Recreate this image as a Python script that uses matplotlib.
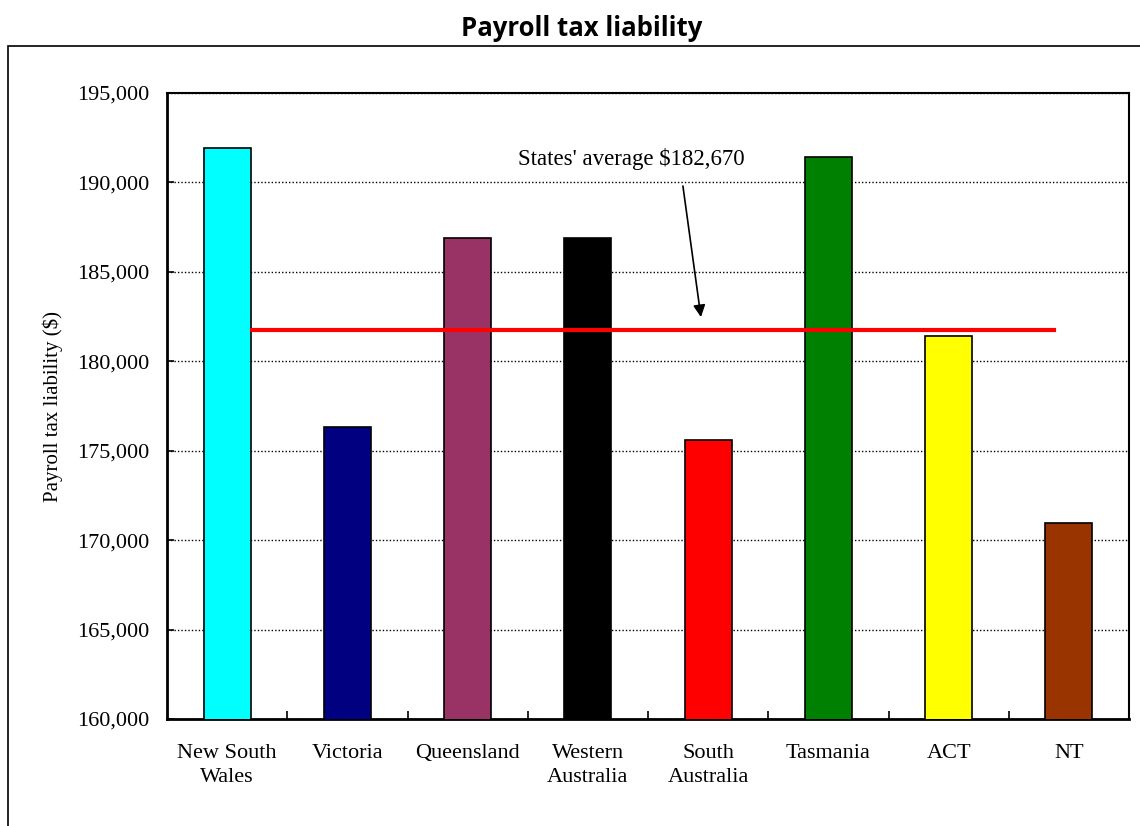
import matplotlib.pyplot as plt
from matplotlib.patches import Rectangle

# chart data
states = ['New South\nWales', 'Victoria', 'Queensland', 'Western\nAustralia',
          'South\nAustralia', 'Tasmania', 'ACT', 'NT']
liability = [191900, 176300, 186900, 186900, 175600, 191450, 181400, 170980]
bar_colors = ['#00FFFF', '#000080', '#993366', '#000000',
              '#FF0000', '#008000', '#FFFF00', '#993300']
avg_line = 181740
avg_label = "States' average $182,670"
yticks = [160000, 165000, 170000, 175000, 180000, 185000, 190000, 195000]

serif = 'Liberation Serif'

fig = plt.figure(figsize=(11.4, 8.26), dpi=100)
ax = fig.add_axes([0.1465, 0.1295, 0.8439, 0.7579])

# outer chart frame
fig.patches.append(Rectangle((8/1140, -0.05), 1.2, 1 - 46/826 + 0.05,
                             transform=fig.transFigure, fill=False,
                             edgecolor='black', linewidth=1.2))

x = list(range(len(states)))
ax.bar(x, liability, width=0.39, color=bar_colors, edgecolor='black',
       linewidth=1.2, zorder=3)

# average line
ax.plot([0.21, 6.875], [avg_line, avg_line], color='red', linewidth=3, zorder=4)

# label and arrow pointing at the line
ax.text(2.42, 191310, avg_label, fontsize=16.5, family=serif, va='center', ha='left')
ax.annotate('', xy=(3.94, 182470), xytext=(3.79, 189800),
            arrowprops=dict(arrowstyle='-|>', color='black', lw=1.2,
                            mutation_scale=18, shrinkA=0, shrinkB=0))

ax.set_xlim(-0.5, 7.5)
ax.set_ylim(160000, 195000)
ax.set_yticks(yticks)
ax.set_yticklabels([f'{v:,}' for v in yticks], family=serif, fontsize=16)
ax.yaxis.grid(True, linestyle=(0, (1, 1.5)), color='black', linewidth=1.0, zorder=0)

ax.set_xticks(x)
ax.set_xticklabels(states, family=serif, fontsize=16, linespacing=1.35)
ax.set_xticks([i + 0.5 for i in x[:-1]], minor=True)
ax.tick_params(axis='x', which='major', length=0, pad=18)
ax.tick_params(axis='x', which='minor', direction='in', length=6, width=1.2)
ax.tick_params(axis='y', direction='in', length=5, width=1.2, pad=13)

for side in ['left', 'bottom']:
    ax.spines[side].set_linewidth(2)
for side in ['top', 'right']:
    ax.spines[side].set_linewidth(1.5)

ax.set_ylabel('Payroll tax liability ($)', family=serif, fontsize=15, labelpad=10)

fig.text(582/1140, 1 - 28/826, 'Payroll tax liability', ha='center', va='center',
         fontsize=18.5, fontweight='bold', family='Open Sans')

plt.savefig('out.png', dpi=100)
